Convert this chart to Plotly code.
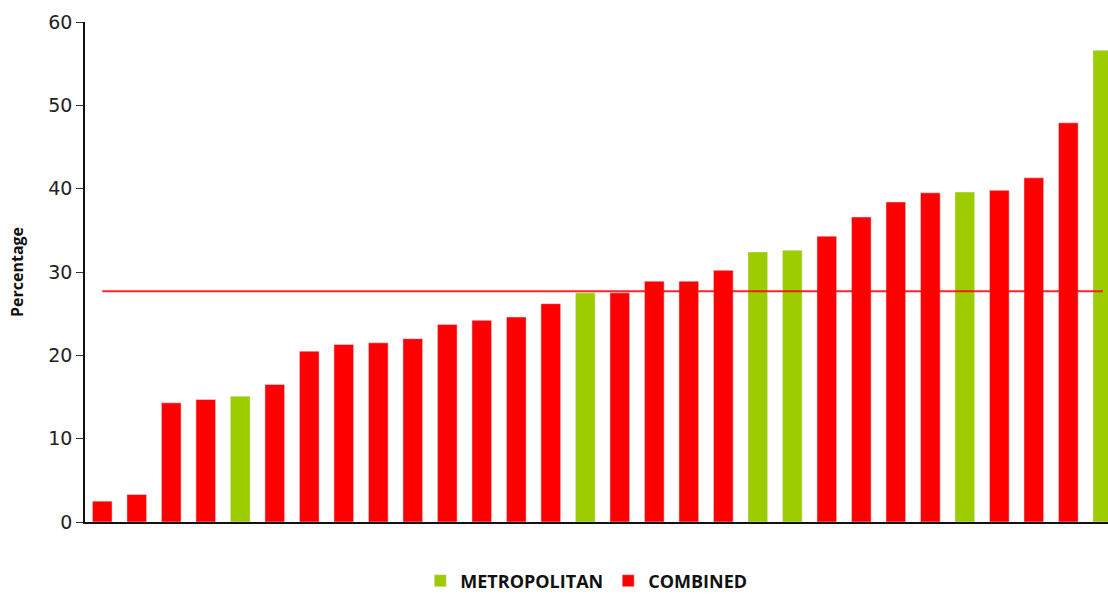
import plotly.graph_objects as go

categories = [str(i) for i in range(1, 31)]
values = [2.5, 3.3, 14.3, 14.7, 15.1, 16.5, 20.5, 21.3, 21.5, 22.0,
          23.7, 24.2, 24.6, 26.2, 27.5, 27.5, 28.9, 28.9, 30.2, 32.4,
          32.6, 34.3, 36.6, 38.4, 39.5, 39.6, 39.8, 41.3, 47.9, 56.6]
groups = ["C", "C", "C", "C", "M", "C", "C", "C", "C", "C",
          "C", "C", "C", "C", "M", "C", "C", "C", "C", "M",
          "M", "C", "C", "C", "C", "M", "C", "C", "C", "M"]
average = 27.7

met_x = [c for c, g in zip(categories, groups) if g == "M"]
met_y = [v for v, g in zip(values, groups) if g == "M"]
com_x = [c for c, g in zip(categories, groups) if g == "C"]
com_y = [v for v, g in zip(values, groups) if g == "C"]

GREEN = "#9ccc00"
RED = "#ff0000"

fig = go.Figure()
fig.add_trace(go.Bar(x=met_x, y=met_y, name="<b>METROPOLITAN</b>", marker_color=GREEN, width=0.57))
fig.add_trace(go.Bar(x=com_x, y=com_y, name="<b>COMBINED</b>", marker_color=RED, width=0.57))
fig.add_trace(go.Scatter(x=categories, y=[average] * len(categories), mode="lines",
                         line=dict(color="rgba(255,0,0,0.85)", width=2), showlegend=False,
                         hoverinfo="skip"))

fig.update_layout(
    width=1108, height=595,
    margin=dict(l=85, r=0, t=22, b=73, autoexpand=False),
    plot_bgcolor="white", paper_bgcolor="white",
    barmode="overlay",
    showlegend=True,
    legend=dict(orientation="h", x=0.49, xanchor="center", y=-0.118, yanchor="middle",
                font=dict(family="Open Sans", size=18, color="#111"), traceorder="normal",
                itemwidth=30),
    xaxis=dict(type="category", categoryorder="array", categoryarray=categories,
               range=[-0.5, 29.15], showticklabels=False, ticks="", automargin=False,
               showline=True, linecolor="#111", linewidth=1.5, showgrid=False, zeroline=False),
    yaxis=dict(range=[0, 60], tickvals=[0, 10, 20, 30, 40, 50, 60], automargin=False,
               ticks="outside", ticklen=7, tickcolor="#333", tickwidth=1.2,
               showline=True, linecolor="#111", linewidth=1.5, showgrid=False, zeroline=False,
               tickfont=dict(family="DejaVu Sans", size=19, color="#222"),
               title=dict(text="<b>Percentage</b>", font=dict(family="Open Sans", size=16, color="#111"),
                          standoff=21)),
)

fig.write_html("out.html", config={"displayModeBar": False},
               post_script="document.body.style.margin='0';document.body.style.overflow='hidden';")
